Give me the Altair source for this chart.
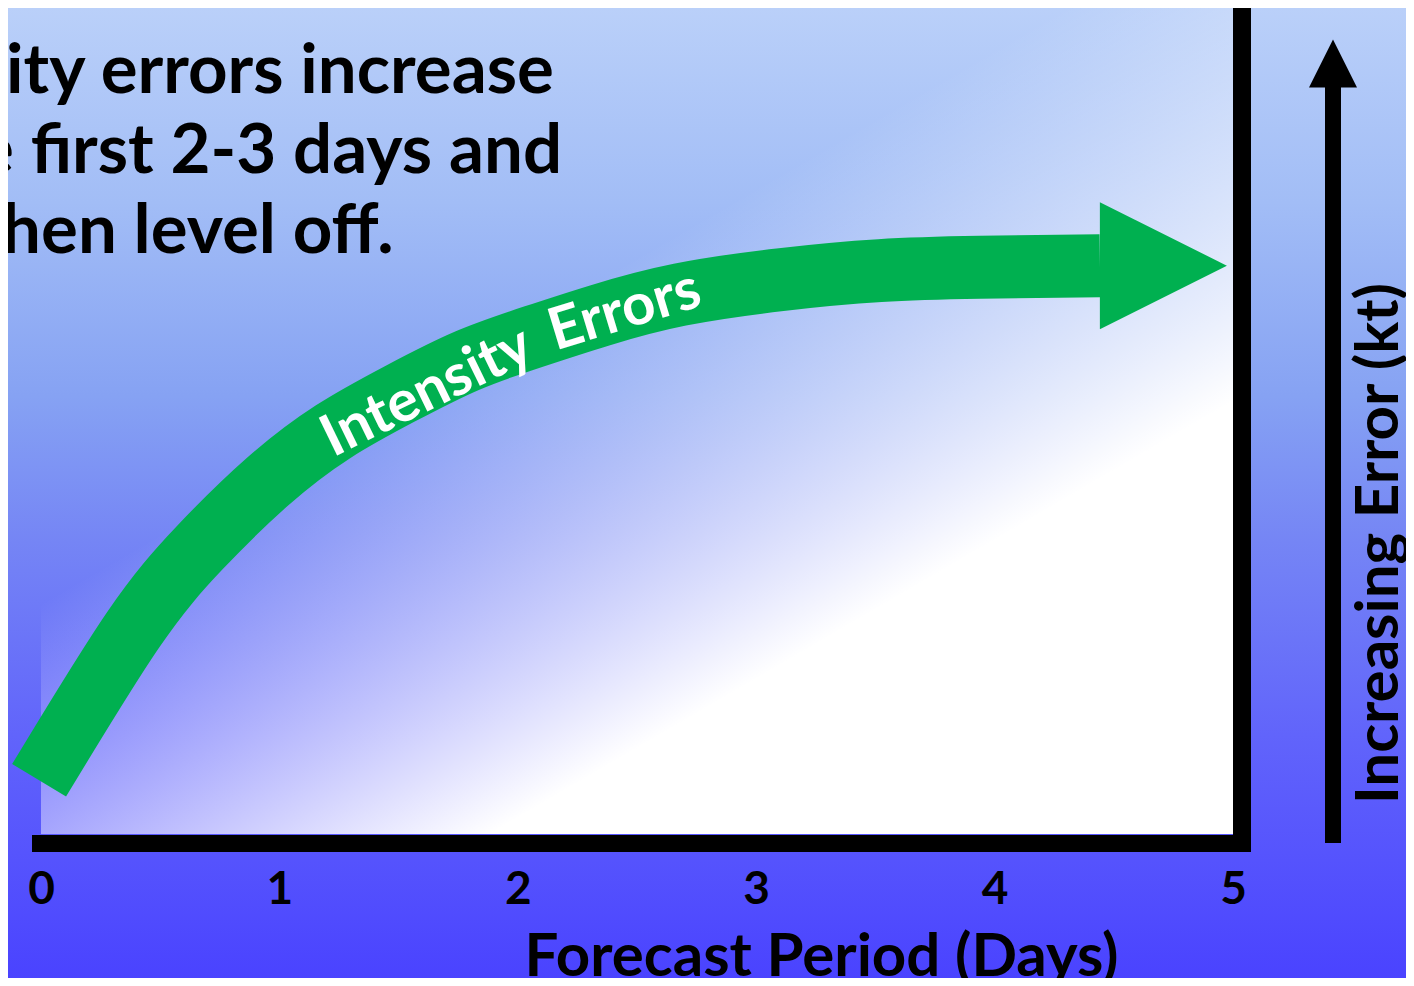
import altair as alt
import pandas as pd

# ---- data ----
curve_days = [-0.008, 0.386, 0.667, 0.948, 1.225, 1.506, 1.787, 2.064, 2.345, 2.680, 3.100, 3.519, 3.939, 4.442]
curve_errors = [6.5, 24.7, 34.7, 42.6, 48.7, 53.3, 57.3, 60.2, 62.8, 65.3, 67.1, 68.2, 68.6, 68.8]
head_days = [4.708]
head_errors = [68.8]
label_words = ["Intensity", "Errors"]
label_days = [1.652, 2.470]
label_errors = [51.6, 61.3]
label_angles = [334, 343]
tick_days = [0, 1, 2, 3, 4, 5]
headline = ["Intensity errors increase", "for the first 2-3 days and", "then level off."]
x_title = "Forecast Period (Days)"
y_title = "Increasing Error (kt)"

W, H = 1192, 826
FONT = "Lato"
GREEN = "#00b050"

curve_df = pd.DataFrame({"day": curve_days, "error": curve_errors})
head_df = pd.DataFrame({"day": head_days, "error": head_errors})
label_df = pd.DataFrame({"word": label_words, "day": label_days, "error": label_errors, "angle": label_angles})
one = alt.Data(values=[{}])

x_axis = alt.Axis(values=tick_days, format="d", labelFont=FONT, labelFontSize=46, labelFontWeight="bold",
                  labelColor="black", labelBaseline="alphabetic", labelPadding=69, labelFlush=False,
                  ticks=False, tickSize=0, domain=False, grid=False,
                  title=x_title, titleFont=FONT, titleFontSize=60, titleFontWeight="bold", titleColor="black",
                  titleX=780, titleY=141, titleAlign="center", titleBaseline="alphabetic", zindex=1)
y_axis = alt.Axis(orient="right", labels=False, ticks=False, tickSize=0, domain=False, grid=False,
                  title=y_title, titleFont=FONT, titleFontSize=60, titleFontWeight="bold", titleColor="black",
                  titleAngle=270, titleX=164, titleY=535, titleAlign="center", titleBaseline="alphabetic", zindex=1)
X = alt.X("day:Q", scale=alt.Scale(domain=[0, 5], nice=False, zero=False), axis=x_axis)
Y = alt.Y("error:Q", scale=alt.Scale(domain=[0, 100], nice=False, zero=False), axis=y_axis)

bg_gradient = {"gradient": "linear", "x1": 0, "y1": 0, "x2": 0, "y2": 1,
               "stops": [{"offset": 0, "color": "#bad0f9"},
                         {"offset": 0.2, "color": "#a2bdf6"},
                         {"offset": 0.4, "color": "#86a2f3"},
                         {"offset": 0.55, "color": "#7585f5"},
                         {"offset": 0.75, "color": "#6164fb"},
                         {"offset": 1, "color": "#4a43ff"}]}
plot_gradient = {"gradient": "linear", "x1": 0.355, "y1": 0.423, "x2": 0.648, "y2": 0.772,
                 "stops": [{"offset": 0, "color": "rgba(255,255,255,0)"},
                           {"offset": 1, "color": "rgba(255,255,255,1)"}]}

background = alt.Chart(one).mark_rect(color=bg_gradient).encode(
    x=alt.value(-33), x2=alt.value(W + 173), y=alt.value(0), y2=alt.value(H + 144))
plot_fill = alt.Chart(one).mark_rect(color=plot_gradient).encode(
    x=alt.value(0), x2=alt.value(W), y=alt.value(0), y2=alt.value(H))

bottom_bar = alt.Chart(one).mark_rule(color="black", strokeWidth=17, strokeCap="butt").encode(
    x=alt.value(-9), x2=alt.value(W + 18), y=alt.value(H + 9.5))
right_bar = alt.Chart(one).mark_rule(color="black", strokeWidth=18, strokeCap="butt").encode(
    x=alt.value(W + 9), y=alt.value(0), y2=alt.value(H + 18))

curve = alt.Chart(curve_df).mark_line(color=GREEN, strokeWidth=63, strokeCap="butt",
                                      interpolate="natural").encode(x=X, y=Y)
head = alt.Chart(head_df).mark_point(shape="M-1,-1L1,0L-1,1Z", size=127 * 127, filled=True,
                                     color=GREEN, opacity=1, strokeWidth=0).encode(x=X, y=Y)
curve_label = alt.Chart(label_df).mark_text(font=FONT, fontSize=58, fontWeight="bold", color="white",
                                            align="center", baseline="alphabetic").encode(
    x=X, y=Y, text="word:N", angle=alt.Angle("angle:Q", scale=None))

headline_text = alt.Chart(one).mark_text(text=headline, font=FONT, fontSize=69, fontWeight="bold",
                                         color="black", align="center", baseline="alphabetic",
                                         lineHeight=80).encode(x=alt.value(144), y=alt.value(85))

arrow_shaft = alt.Chart(one).mark_rule(color="black", strokeWidth=16, strokeCap="butt").encode(
    x=alt.value(W + 100), y=alt.value(79), y2=alt.value(H + 9))
arrow_head = alt.Chart(one).mark_point(shape="M0,-1L1,1L-1,1Z", size=48 * 48, filled=True,
                                       color="black", opacity=1, strokeWidth=0).encode(
    x=alt.value(W + 100), y=alt.value(55.5))

chart = alt.layer(background, plot_fill, bottom_bar, right_bar, curve, head, curve_label,
                  headline_text, arrow_shaft, arrow_head).properties(
    width=W, height=H,
    padding={"left": 33, "top": 0, "right": 173, "bottom": 144},
    autosize=alt.AutoSizeParams(type="none"),
).configure_view(stroke=None).configure(background="#ffffff")

chart.save("out.html", embed_options={"renderer": "svg", "actions": False})
